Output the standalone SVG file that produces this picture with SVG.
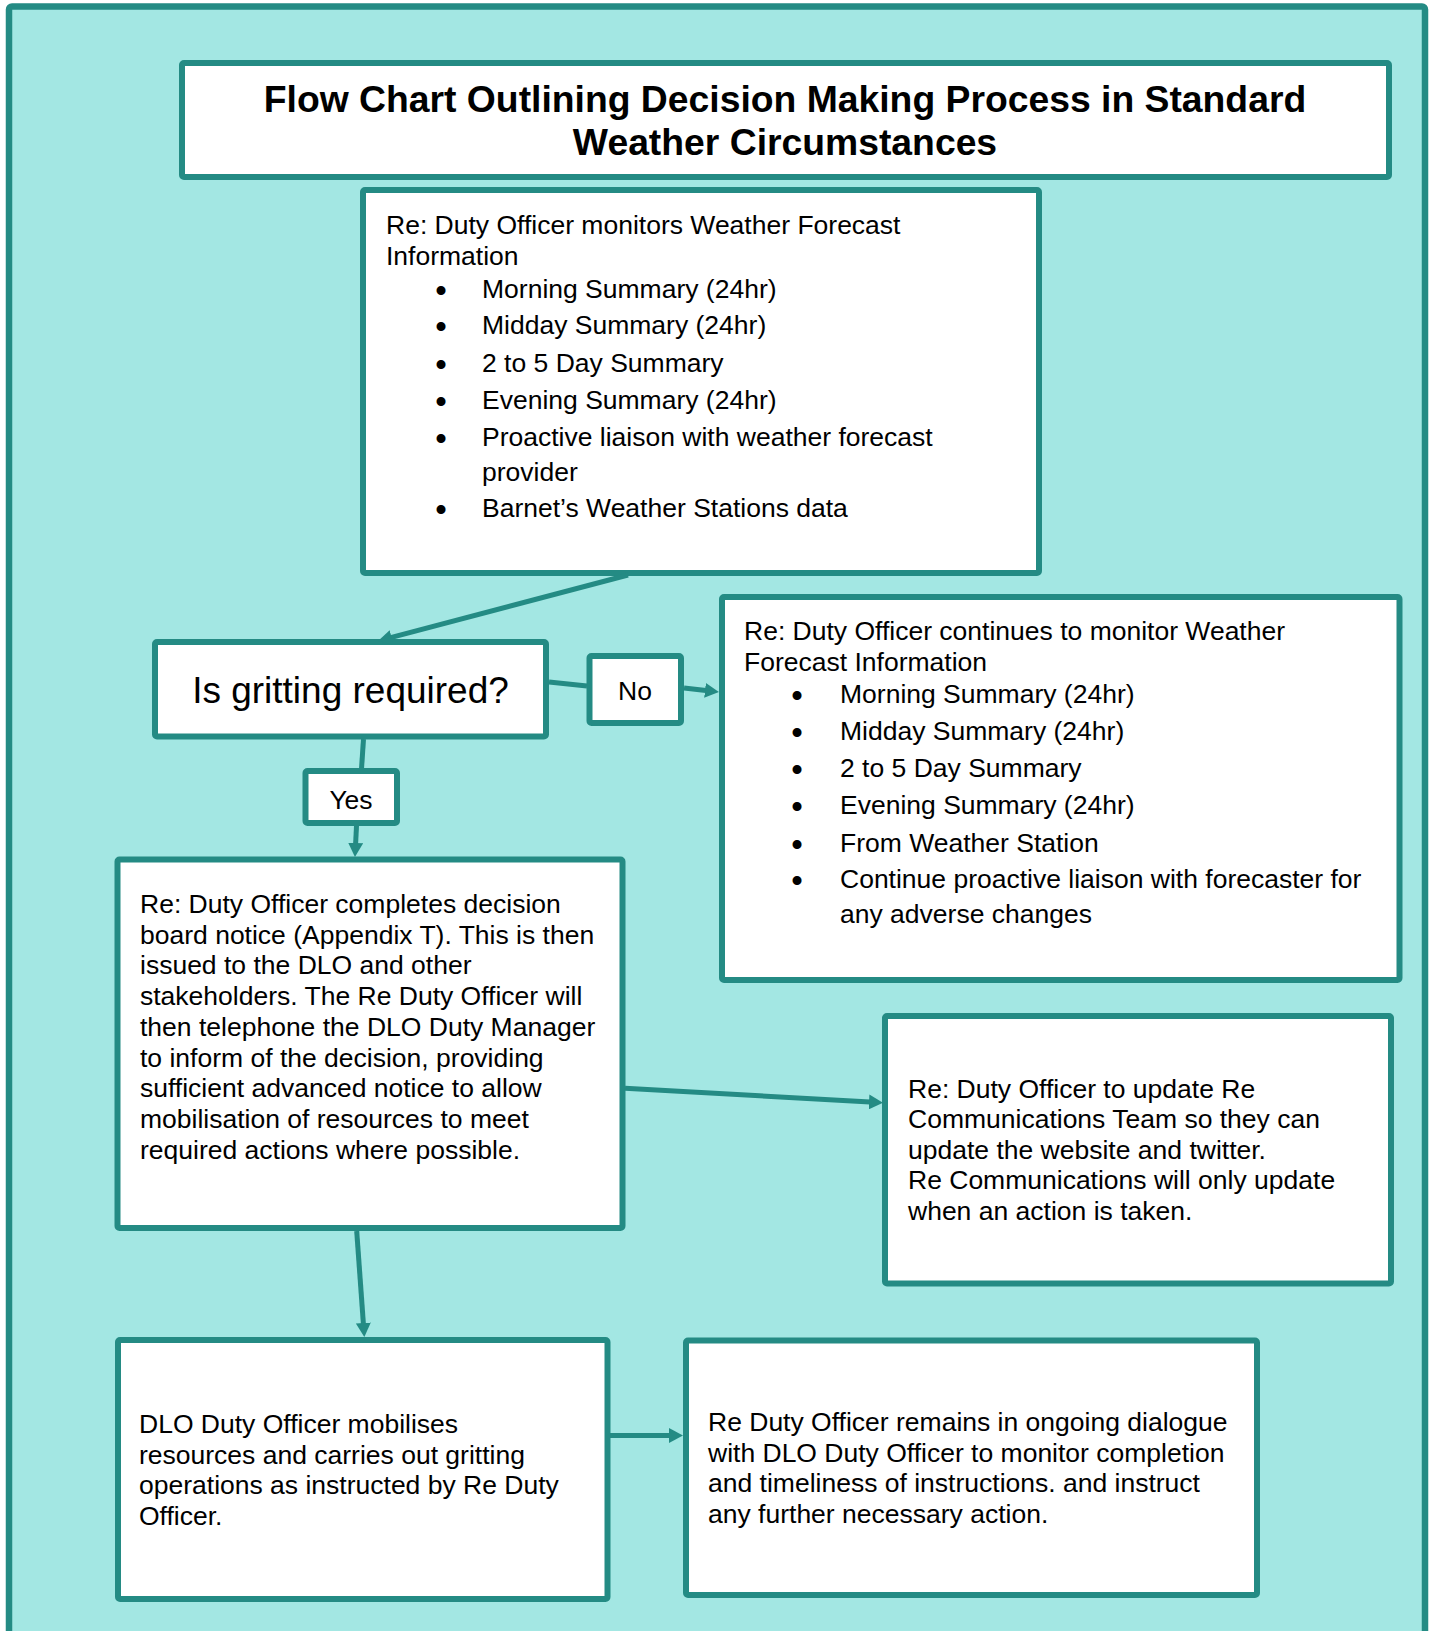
<svg xmlns="http://www.w3.org/2000/svg" width="1429" height="1631" viewBox="0 0 1429 1631">
<style>
  .frame{fill:#a3e7e3;stroke:#248b84;stroke-width:6.5}
  .box{fill:#ffffff;stroke:#248b84;stroke-width:6}
  .conn{fill:none;stroke:#248b84;stroke-width:5}
  text{font-family:"Liberation Sans",Arial,sans-serif;fill:#000000}
  .title{font-size:37.3px;font-weight:bold;text-anchor:middle}
  .body{font-size:26.5px}
  .big{font-size:37px;text-anchor:middle}
  .lbl{font-size:26.5px;text-anchor:middle}
  .bul{font-size:33px;text-anchor:middle}
</style>
<defs>
  <marker id="arr" markerUnits="userSpaceOnUse" markerWidth="14" markerHeight="15" refX="1" refY="7.5" orient="auto">
    <path d="M0,0 L14,7.5 L0,15 z" fill="#248b84"/>
  </marker>
</defs>
<rect class="frame" x="9" y="6.5" width="1416" height="1650" rx="3"/>

<g id="title">
  <rect class="box" x="182" y="63" width="1207" height="114" rx="2"/>
  <text class="title" x="785" y="112">Flow Chart Outlining Decision Making Process in Standard</text>
  <text class="title" x="785" y="155">Weather Circumstances</text>
</g>

<g id="monitor">
  <rect class="box" x="363" y="190" width="676" height="383" rx="2"/>
  <text class="body" x="386" y="234">Re: Duty Officer monitors Weather Forecast</text>
  <text class="body" x="386" y="265">Information</text>
  <text class="bul" x="441" y="302">•</text><text class="body" x="482" y="298">Morning Summary (24hr)</text>
  <text class="bul" x="441" y="338">•</text><text class="body" x="482" y="334">Midday Summary (24hr)</text>
  <text class="bul" x="441" y="376">•</text><text class="body" x="482" y="372">2 to 5 Day Summary</text>
  <text class="bul" x="441" y="413">•</text><text class="body" x="482" y="409">Evening Summary (24hr)</text>
  <text class="bul" x="441" y="450">•</text><text class="body" x="482" y="446">Proactive liaison with weather forecast</text>
  <text class="body" x="482" y="481">provider</text>
  <text class="bul" x="441" y="521">•</text><text class="body" x="482" y="517">Barnet’s Weather Stations data</text>
</g>

<g id="decision">
  <rect class="box" x="155" y="642" width="391" height="94.5" rx="2"/>
  <text class="big" x="350.5" y="703">Is gritting required?</text>
</g>

<g id="no">
  <rect class="box" x="589.5" y="656" width="91.5" height="67" rx="2"/>
  <text class="lbl" x="635" y="700">No</text>
</g>

<g id="yes">
  <rect class="box" x="305.5" y="771" width="91.5" height="52" rx="2"/>
  <text class="lbl" x="351" y="809">Yes</text>
</g>

<g id="continue">
  <rect class="box" x="722" y="597" width="677.5" height="383" rx="2"/>
  <text class="body" x="744" y="640">Re: Duty Officer continues to monitor Weather</text>
  <text class="body" x="744" y="671">Forecast Information</text>
  <text class="bul" x="797" y="707">•</text><text class="body" x="840" y="703">Morning Summary (24hr)</text>
  <text class="bul" x="797" y="744">•</text><text class="body" x="840" y="740">Midday Summary (24hr)</text>
  <text class="bul" x="797" y="781">•</text><text class="body" x="840" y="777">2 to 5 Day Summary</text>
  <text class="bul" x="797" y="818">•</text><text class="body" x="840" y="814">Evening Summary (24hr)</text>
  <text class="bul" x="797" y="856">•</text><text class="body" x="840" y="852">From Weather Station</text>
  <text class="bul" x="797" y="892">•</text><text class="body" x="840" y="888">Continue proactive liaison with forecaster for</text>
  <text class="body" x="840" y="923">any adverse changes</text>
</g>

<g id="complete">
  <rect class="box" x="117.5" y="859.5" width="505" height="368.5" rx="2"/>
  <text class="body" x="140" y="913">Re: Duty Officer completes decision</text>
  <text class="body" x="140" y="943.7">board notice (Appendix T). This is then</text>
  <text class="body" x="140" y="974.4">issued to the DLO and other</text>
  <text class="body" x="140" y="1005">stakeholders. The Re Duty Officer will</text>
  <text class="body" x="140" y="1035.8">then telephone the DLO Duty Manager</text>
  <text class="body" x="140" y="1066.5">to inform of the decision, providing</text>
  <text class="body" x="140" y="1097">sufficient advanced notice to allow</text>
  <text class="body" x="140" y="1128">mobilisation of resources to meet</text>
  <text class="body" x="140" y="1158.6">required actions where possible.</text>
</g>

<g id="comms">
  <rect class="box" x="885" y="1016" width="506" height="267.5" rx="2"/>
  <text class="body" x="908" y="1097.5">Re: Duty Officer to update Re</text>
  <text class="body" x="908" y="1128">Communications Team so they can</text>
  <text class="body" x="908" y="1158.5">update the website and twitter.</text>
  <text class="body" x="908" y="1189">Re Communications will only update</text>
  <text class="body" x="908" y="1220">when an action is taken.</text>
</g>

<g id="dlo">
  <rect class="box" x="118" y="1340" width="489.5" height="259" rx="2"/>
  <text class="body" x="139" y="1433">DLO Duty Officer mobilises</text>
  <text class="body" x="139" y="1463.5">resources and carries out gritting</text>
  <text class="body" x="139" y="1494">operations as instructed by Re Duty</text>
  <text class="body" x="139" y="1524.5">Officer.</text>
</g>

<g id="dialogue">
  <rect class="box" x="686" y="1340.5" width="571" height="254.5" rx="2"/>
  <text class="body" x="708" y="1431">Re Duty Officer remains in ongoing dialogue</text>
  <text class="body" x="708" y="1461.5">with DLO Duty Officer to monitor completion</text>
  <text class="body" x="708" y="1492">and timeliness of instructions. and instruct</text>
  <text class="body" x="708" y="1522.5">any further necessary action.</text>
</g>

<g id="connectors">
  <line class="conn" x1="628" y1="575" x2="390.6" y2="637.7" marker-end="url(#arr)"/>
  <line class="conn" x1="549" y1="682" x2="587" y2="686"/>
  <line class="conn" x1="684" y1="688" x2="706" y2="690.5" marker-end="url(#arr)"/>
  <line class="conn" x1="363.5" y1="739" x2="361.5" y2="769"/>
  <line class="conn" x1="356.5" y1="826" x2="355.6" y2="844" marker-end="url(#arr)"/>
  <line class="conn" x1="625" y1="1088.3" x2="870" y2="1102" marker-end="url(#arr)"/>
  <line class="conn" x1="356.7" y1="1231" x2="363.4" y2="1324" marker-end="url(#arr)"/>
  <line class="conn" x1="610" y1="1435.5" x2="670" y2="1435.5" marker-end="url(#arr)"/>
</g>
</svg>
